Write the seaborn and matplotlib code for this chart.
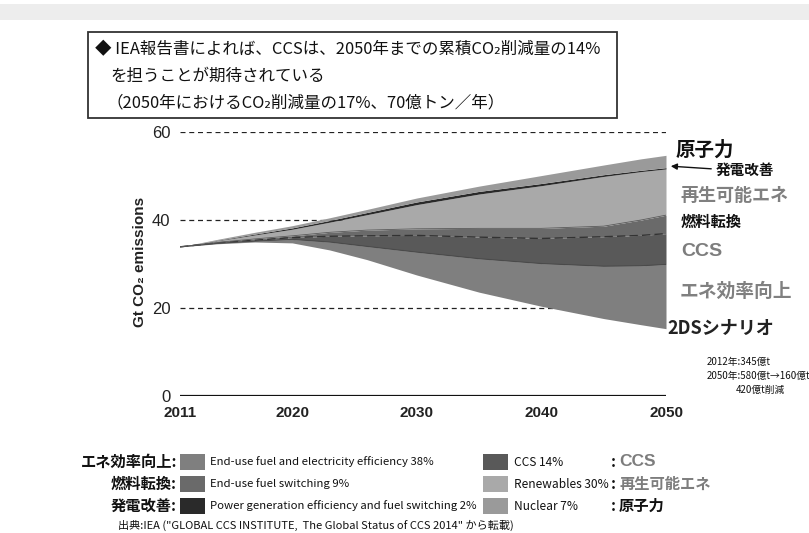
import numpy as np
import matplotlib
matplotlib.use("Agg")
import matplotlib.pyplot as plt
from matplotlib.patches import Rectangle, FancyArrowPatch
import seaborn as sns

sns.set_theme(style="white")
JP = ["Noto Sans CJK JP", "DejaVu Sans"]
SANS = ["Liberation Sans", "DejaVu Sans"]
plt.rcParams["font.family"] = JP

# ---- data (Gt CO2 per year) ----
years = [2011, 2014, 2017, 2020, 2023, 2026, 2030, 2035, 2040, 2045, 2048, 2050]
scenario_2ds = [33.9, 34.6, 35.0, 34.8, 33.2, 31.0, 27.5, 23.6, 20.4, 17.6, 16.2, 15.3]
efficiency = [0.0, 0.1, 0.2, 0.8, 1.8, 3.0, 5.2, 7.6, 9.7, 11.9, 13.4, 14.6]
ccs = [0.0, 0.1, 0.2, 0.4, 1.3, 2.4, 3.8, 4.9, 5.7, 6.7, 6.9, 7.0]
fuel_switching = [0.0, 0.1, 0.3, 0.4, 0.9, 1.3, 1.5, 2.0, 2.3, 2.4, 3.5, 4.2]
renewables = [0.0, 0.4, 0.9, 1.5, 2.3, 3.5, 5.5, 7.8, 9.7, 11.3, 11.0, 10.5]
power_generation = [0.0, 0.1, 0.2, 0.3, 0.4, 0.5, 0.6, 0.6, 0.5, 0.4, 0.3, 0.3]
nuclear = [0.0, 0.2, 0.4, 0.5, 0.6, 0.7, 0.9, 1.2, 1.8, 2.2, 2.6, 2.8]

x_ticks = [2011, 2020, 2030, 2040, 2050]
y_ticks = [0, 20, 40, 60]

legend_left = [
    ("エネ効率向上:", "End-use fuel and electricity efficiency 38%"),
    ("燃料転換:", "End-use fuel switching 9%"),
    ("発電改善:", "Power generation efficiency and fuel switching 2%"),
]
legend_right = [
    ("CCS 14%", "CCS"),
    ("Renewables 30%", "再生可能エネ"),
    ("Nuclear 7%", "原子力"),
]

colors = {
    "efficiency": "#7f7f7f",
    "ccs": "#595959",
    "fuel": "#6a6a6a",
    "power": "#2a2a2a",
    "renew": "#a9a9a9",
    "nuclear": "#9a9a9a",
}

W, H = 809, 533
fig = plt.figure(figsize=(W / 100, H / 100), dpi=100)
fig.patch.set_facecolor("white")


def fx(x):
    return x / W


def fy(y):
    return 1 - y / H


# light strip across the top of the page
fig.patches.append(Rectangle((0, fy(20)), 1, (20 - 4) / H, transform=fig.transFigure,
                             facecolor="#ededed", edgecolor="none", zorder=0))

# ---- stacked wedges above the 2DS path ----
ax = fig.add_axes([fx(180), fy(396), (666 - 180) / W, (396 - 132) / H])
ax.set_xlim(2011, 2050)
ax.set_ylim(0, 60)

yrs = np.array(years)
base = np.array(scenario_2ds)
layers = [
    (efficiency, colors["efficiency"]),
    (ccs, colors["ccs"]),
    (fuel_switching, colors["fuel"]),
    (renewables, colors["renew"]),
    (power_generation, colors["power"]),
    (nuclear, colors["nuclear"]),
]
bounds = [base]
for vals, col in layers:
    lower = bounds[-1]
    upper = lower + np.array(vals)
    ax.fill_between(yrs, lower, upper, color=col, lw=0, zorder=2)
    bounds.append(upper)

# boundary lines between wedges
sns.lineplot(x=yrs, y=bounds[2], ax=ax, color="#333333", lw=1.0,
             linestyle=(0, (6, 3)), zorder=3)
sns.lineplot(x=yrs, y=bounds[1], ax=ax, color="#4a4a4a", lw=0.8, zorder=3)
sns.lineplot(x=yrs, y=bounds[3], ax=ax, color="#5a5a5a", lw=0.6, zorder=3)

# reference lines
for yv in [20, 40, 60]:
    ax.axhline(yv, color="#222222", lw=0.9, ls=(0, (4, 3)), zorder=1)
ax.axhline(0, color="#111111", lw=1.6, zorder=3)

for s in ax.spines.values():
    s.set_visible(False)
ax.set_xticks(x_ticks)
ax.set_yticks(y_ticks)
ax.set_xticklabels([str(v) for v in x_ticks], family=SANS, fontsize=11,
                   fontweight="bold", color="#222222")
ax.set_yticklabels([str(v) for v in y_ticks], family=SANS, fontsize=12,
                   color="#222222")
ax.tick_params(axis="both", length=0)
ax.tick_params(axis="x", pad=7)
ax.tick_params(axis="y", pad=7)
ax.grid(False)
ax.set_facecolor("none")

fig.text(fx(140), fy(262), "Gt CO₂ emissions", rotation=90, ha="center", va="center",
         family=SANS, fontsize=11, fontweight="bold", color="#222222")

# ---- headline box ----
fig.patches.append(Rectangle((fx(88), fy(118)), (617 - 88) / W, (118 - 32) / H,
                             transform=fig.transFigure, facecolor="white",
                             edgecolor="#333333", lw=1.3, zorder=1))
fig.text(fx(95), fy(50), "◆ IEA報告書によれば、CCSは、2050年までの累積CO₂削減量の14%",
         ha="left", va="center", fontsize=11.9, family=JP, color="#111111", zorder=2)
fig.text(fx(110), fy(76), "を担うことが期待されている", ha="left", va="center",
         fontsize=11.9, family=JP, color="#111111", zorder=2)
fig.text(fx(106), fy(103), "（2050年におけるCO₂削減量の17%、70億トン／年）", ha="left",
         va="center", fontsize=11.9, family=JP, color="#111111", zorder=2)

# ---- wedge labels on the right ----
fig.text(fx(676), fy(150), "原子力", ha="left", va="center", fontsize=14,
         fontweight="bold", family=JP, color="#111111")
fig.text(fx(716), fy(170), "発電改善", ha="left", va="center", fontsize=10.5,
         fontweight="bold", family=JP, color="#111111")
fig.patches.append(FancyArrowPatch(
    (fx(714), fy(169)), (fx(668), fy(166)), transform=fig.transFigure,
    arrowstyle="-|>", mutation_scale=9, color="#111111", lw=1.0))
fig.text(fx(680), fy(195), "再生可能エネ", ha="left", va="center", fontsize=13,
         fontweight="bold", family=JP, color="#808080")
fig.text(fx(681), fy(222), "燃料転換", ha="left", va="center", fontsize=11,
         fontweight="bold", family=JP, color="#111111")
fig.text(fx(681), fy(251), "CCS", ha="left", va="center", fontsize=14,
         fontweight="bold", family=SANS, color="#7d7d7d")
fig.text(fx(680), fy(291), "エネ効率向上", ha="left", va="center", fontsize=13.5,
         fontweight="bold", family=JP, color="#808080")
fig.text(fx(667), fy(328), "2DSシナリオ", ha="left", va="center", fontsize=13,
         fontweight="bold", family=JP, color="#222222")
fig.text(fx(707), fy(362), "2012年:345億t", ha="left", va="center", fontsize=7,
         family=JP, color="#111111")
fig.text(fx(707), fy(376), "2050年:580億t→160億t", ha="left", va="center", fontsize=7,
         family=JP, color="#111111")
fig.text(fx(736), fy(390), "420億t削減", ha="left", va="center", fontsize=7,
         family=JP, color="#111111")

# ---- legend ----
rows_y = [462, 484, 506]
left_cols = [colors["efficiency"], colors["fuel"], colors["power"]]
right_cols = [colors["ccs"], colors["renew"], colors["nuclear"]]
for i, y in enumerate(rows_y):
    jp, en = legend_left[i]
    fig.text(fx(177), fy(y), jp, ha="right", va="center", fontsize=11,
             fontweight="bold", family=JP, color="#111111")
    fig.patches.append(Rectangle((fx(180), fy(y + 8)), 25 / W, 16 / H,
                                 transform=fig.transFigure, facecolor=left_cols[i],
                                 edgecolor="none"))
    fig.text(fx(210), fy(y), en, ha="left", va="center", fontsize=8.2,
             family=JP, color="#111111")

    en2, jp2 = legend_right[i]
    fig.patches.append(Rectangle((fx(483), fy(y + 8)), 25 / W, 16 / H,
                                 transform=fig.transFigure, facecolor=right_cols[i],
                                 edgecolor="none"))
    fig.text(fx(514), fy(y), en2, ha="left", va="center", fontsize=8.6,
             family=JP, color="#111111")
    fig.text(fx(611), fy(y), ":", ha="left", va="center", fontsize=11,
             fontweight="bold", family=JP, color="#111111")
    if i == 0:
        fig.text(fx(619), fy(y), jp2, ha="left", va="center", fontsize=12.5,
                 fontweight="bold", family=SANS, color="#7d7d7d")
    else:
        fig.text(fx(619), fy(y), jp2, ha="left", va="center", fontsize=11,
                 fontweight="bold", family=JP,
                 color="#7d7d7d" if i == 1 else "#111111")

fig.text(fx(118), fy(525),
         "出典:IEA (\"GLOBAL CCS INSTITUTE,  The Global Status of CCS 2014\" から転載)",
         ha="left", va="center", fontsize=8, family=JP, color="#111111")

fig.savefig("out.png", dpi=100)
